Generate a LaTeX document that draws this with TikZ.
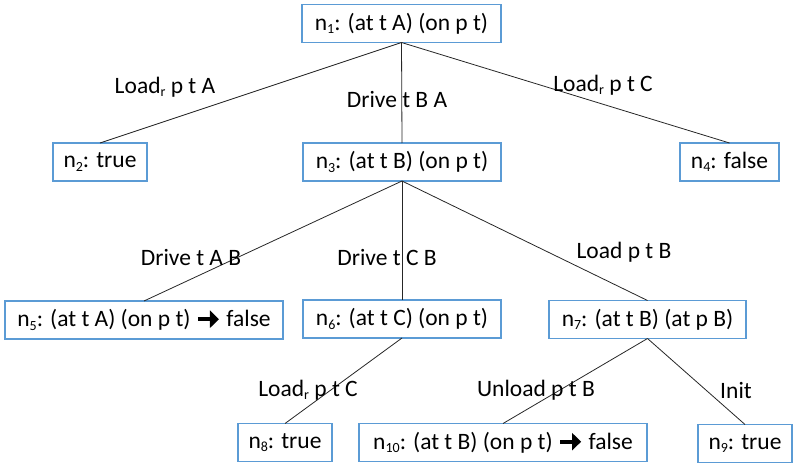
\documentclass[tikz,border=0pt]{standalone}
\usepackage{fontspec}
\usetikzlibrary{arrows.meta}
\setmainfont{Carlito}
\definecolor{boxblue}{RGB}{91,155,213}
\newcommand{\nsub}[1]{\raisebox{-0.3ex}{\fontsize{14}{14}\selectfont #1}}
\newcommand{\farrow}{\tikz[baseline=0pt,x=1pt,y=1pt]{\draw[line width=4.2pt,-{Triangle[length=9pt,width=17pt]}] (0,7.5) -- (21,7.5);}}
\begin{document}
\begin{tikzpicture}[x=1pt,y=-1pt,
  box/.style={draw=boxblue, line width=1.1pt, fill=white, inner sep=0pt, outer sep=0pt,
    font=\fontsize{23.5}{27}\selectfont, minimum height=38pt},
  lab/.style={font=\fontsize{23.5}{27}\selectfont, inner sep=0pt},
  edge/.style={draw=black!85, line width=0.8pt}]
\useasboundingbox (0,0) rectangle (797,473);
% nodes
\node[box, minimum width=199pt] (n1) at (401.5,23.5) {n\nsub{1}: (at t A) (on p t)};
\node[box, minimum width=94pt] (n2) at (100,162) {n\nsub{2}: true};
\node[box, minimum width=198pt] (n3) at (402,162) {n\nsub{3}: (at t B) (on p t)};
\node[box, minimum width=99pt] (n4) at (729.5,162) {n\nsub{4}: false};
\node[box, minimum width=278pt] (n5) at (144,320) {n\nsub{5}: (at t A) (on p t) \farrow{} false};
\node[box, minimum width=198pt] (n6) at (402,319) {n\nsub{6}: (at t C) (on p t)};
\node[box, minimum width=197pt] (n7) at (647.5,319.5) {n\nsub{7}: (at t B) (at p B)};
\node[box, minimum width=94pt] (n8) at (285,442.5) {n\nsub{8}: true};
\node[box, minimum width=288pt] (n10) at (503,442.5) {n\nsub{10}: (at t B) (on p t) \farrow{} false};
\node[box, minimum width=94pt] (n9) at (745,443.5) {n\nsub{9}: true};
% edges
\draw[edge] (n1.south) -- (n2.north);
\draw[edge] (n1.south) -- (n3.north);
\draw[edge] (n1.south) -- (n4.north);
\draw[edge] (n3.south) -- (n5.north);
\draw[edge] (n3.south) -- (n6.north);
\draw[edge] (n3.south) -- (n7.north);
\draw[edge] (n6.south) -- (n8.north);
\draw[edge] (n7.south) -- (n10.north);
\draw[edge] (n7.south) -- (n9.north);
% labels
\node[lab] (l12) at (165,87) {Load\nsub{r} p t A};
\node[lab] (l13) at (397,100) {Drive t B A};
\node[lab] (l14) at (603,85) {Load\nsub{r} p t C};
\node[lab] (l35) at (191,258) {Drive t A B};
\node[lab] (l36) at (387,258) {Drive t C B};
\node[lab] (l37) at (624,252) {Load p t B};
\node[lab] (l68) at (308,390) {Load\nsub{r} p t C};
\node[lab] (l710) at (536,390) {Unload p t B};
\node[lab] (l79) at (736,390) {Init};
\end{tikzpicture}
\end{document}
